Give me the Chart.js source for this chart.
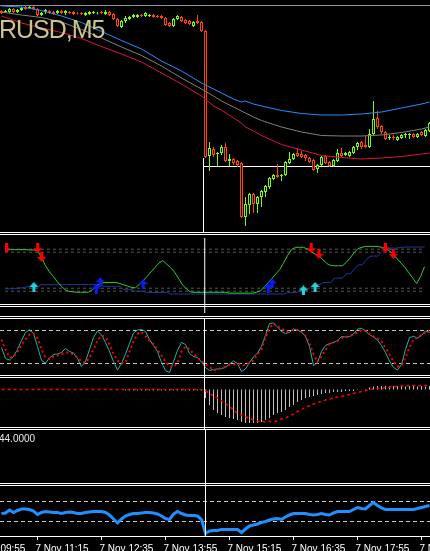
<!DOCTYPE html>
<html>
<head>
<meta charset="utf-8">
<script src="https://cdn.jsdelivr.net/npm/chart.js@4.4.1/dist/chart.umd.min.js"></script>
<style>
  html, body { margin: 0; padding: 0; background: #000; overflow: hidden; }
  #wrap { position: relative; width: 430px; height: 551px; overflow: hidden; background: #000; }
  #wrap canvas { position: absolute; left: 0; }
  .sep { position: absolute; left: 0; width: 430px; height: 1px; background: #fff; }
  #title { position: absolute; left: -1px; top: 17px; font: 25px "Liberation Sans", Arial, sans-serif; letter-spacing: -1px; line-height: 25px; color: #cbc38a; white-space: nowrap; }
  #value { position: absolute; left: -1px; top: 433px; font: 10px "Liberation Sans", Arial, sans-serif; line-height: 12px; color: #ececec; white-space: nowrap; }
</style>
</head>
<body>
<div id="wrap">
  <canvas id="price" width="430" height="233" style="top:0"></canvas>
  <canvas id="trend" width="430" height="85" style="top:233px"></canvas>
  <canvas id="stoch" width="430" height="59" style="top:318px"></canvas>
  <canvas id="macd" width="430" height="52" style="top:377px"></canvas>
  <canvas id="blank" width="430" height="56" style="top:429px"></canvas>
  <canvas id="rsi" width="430" height="75" style="top:485px"></canvas>

  <div class="sep" style="top:232px"></div>
  <div class="sep" style="top:234px"></div>
  <div class="sep" style="top:304px"></div>
  <div class="sep" style="top:306px"></div>
  <div class="sep" style="top:316px"></div>
  <div class="sep" style="top:318px"></div>
  <div class="sep" style="top:375px"></div>
  <div class="sep" style="top:377px"></div>
  <div class="sep" style="top:427px"></div>
  <div class="sep" style="top:429px"></div>
  <div class="sep" style="top:483px"></div>
  <div class="sep" style="top:485px"></div>

  <div id="title">RUSD,M5</div>
  <div id="value">44.0000</div>
</div>

<script>
// M5 bars, 7 Nov 10:30 .. 19:25
const bars = [...Array(108).keys()];

const opens = [
  1.3529, 1.3528, 1.3528, 1.3531, 1.3528, 1.3530, 1.3533, 1.3532, 1.3533, 1.3531,
  1.3525, 1.3528, 1.3529, 1.3528, 1.3527, 1.3529, 1.3527, 1.3528, 1.3528, 1.3527,
  1.3527, 1.3525, 1.3526, 1.3527, 1.35265, 1.3528, 1.3526, 1.3528, 1.3526, 1.3521,
  1.3513, 1.3519, 1.3521, 1.3523, 1.3523, 1.3525, 1.3524, 1.3524, 1.3525, 1.3524,
  1.3524, 1.3522, 1.3517, 1.3514, 1.3521, 1.3523, 1.3520, 1.3519, 1.3514, 1.3519,
  1.3518, 1.3509, 1.3384, 1.3391, 1.3386, 1.3387, 1.3393, 1.3379, 1.3381, 1.3379,
  1.3377, 1.3323, 1.3335, 1.3346, 1.3336, 1.3343, 1.3348, 1.3353, 1.3361, 1.3365,
  1.3364, 1.3365, 1.3377, 1.3381, 1.3387, 1.3386, 1.3385, 1.3382, 1.3380, 1.3371,
  1.3375, 1.3384, 1.3378, 1.3374, 1.3379, 1.3387, 1.3385, 1.3384, 1.3387, 1.3393,
  1.3398, 1.3395, 1.3393, 1.3406, 1.3422, 1.3414, 1.3408, 1.3402, 1.3403, 1.3400,
  1.3402, 1.3405, 1.3405, 1.3406, 1.3403, 1.3408, 1.3404, 1.3409
];
const highs = [
  1.3530, 1.3530, 1.3532, 1.3532, 1.3531, 1.3533, 1.3534, 1.3534, 1.3534, 1.3532,
  1.3528, 1.3531, 1.3530, 1.3529, 1.3530, 1.3530, 1.3530, 1.3529, 1.3529, 1.3528,
  1.3528, 1.3528, 1.3529, 1.3529, 1.3528, 1.3529, 1.3530, 1.3529, 1.3527, 1.3522,
  1.3520, 1.3524, 1.3524, 1.3526, 1.3526, 1.3526, 1.3528, 1.3526, 1.3526, 1.3525,
  1.3525, 1.3523, 1.3518, 1.3522, 1.3525, 1.3524, 1.3521, 1.3520, 1.3519, 1.3525,
  1.3519, 1.3510, 1.3398, 1.3393, 1.3388, 1.3395, 1.3397, 1.3386, 1.3382, 1.3380,
  1.3378, 1.3343, 1.3347, 1.3347, 1.3344, 1.3350, 1.3355, 1.3363, 1.3366, 1.3376,
  1.3366, 1.3379, 1.3388, 1.3387, 1.3392, 1.3389, 1.3386, 1.3383, 1.3381, 1.3376,
  1.3384, 1.3385, 1.3379, 1.3381, 1.3391, 1.3392, 1.3388, 1.3389, 1.3394, 1.3398,
  1.3399, 1.3404, 1.3411, 1.3439, 1.3429, 1.3415, 1.3409, 1.3405, 1.3405, 1.3404,
  1.3406, 1.3407, 1.3407, 1.3407, 1.3407, 1.3409, 1.3411, 1.3418
];
const lows = [
  1.3526, 1.3527, 1.3527, 1.3527, 1.3527, 1.3529, 1.3530, 1.3531, 1.3530, 1.3524,
  1.3524, 1.3526, 1.3526, 1.3525, 1.3526, 1.3526, 1.3525, 1.3526, 1.3525, 1.35255,
  1.3525, 1.3524, 1.3525, 1.3526, 1.35255, 1.3526, 1.3525, 1.3524, 1.3520, 1.3513,
  1.3512, 1.3517, 1.3520, 1.3522, 1.3522, 1.3523, 1.3523, 1.3523, 1.3522, 1.3522,
  1.3521, 1.3514, 1.3513, 1.3513, 1.3520, 1.3518, 1.3516, 1.3515, 1.3513, 1.3516,
  1.3508, 1.3382, 1.3369, 1.3383, 1.3374, 1.3385, 1.3378, 1.3374, 1.3375, 1.3373,
  1.3322, 1.3314, 1.3326, 1.3327, 1.3327, 1.3333, 1.3343, 1.3351, 1.3360, 1.3362,
  1.3359, 1.3364, 1.3376, 1.3380, 1.3383, 1.3382, 1.3379, 1.3377, 1.3369, 1.3367,
  1.3374, 1.3376, 1.3373, 1.3373, 1.3378, 1.3383, 1.3384, 1.3383, 1.3386, 1.3390,
  1.3391, 1.3392, 1.3392, 1.3405, 1.3411, 1.3406, 1.3400, 1.3400, 1.3400, 1.3399,
  1.3401, 1.3402, 1.3401, 1.3402, 1.3402, 1.3404, 1.3403, 1.3408
];
const closes = [
  1.3527, 1.3529, 1.3531, 1.3528, 1.3530, 1.3532, 1.3531, 1.3533, 1.3531, 1.3525,
  1.3527, 1.3530, 1.3527, 1.3526, 1.3529, 1.3527, 1.3529, 1.3527, 1.3526, 1.35265,
  1.3526, 1.3527, 1.3528, 1.3528, 1.3527, 1.3527, 1.3528, 1.3525, 1.3521, 1.3514,
  1.3519, 1.3522, 1.3523, 1.3525, 1.3525, 1.3524, 1.3527, 1.3525, 1.3523, 1.3523,
  1.3522, 1.3515, 1.3514, 1.3521, 1.3524, 1.3519, 1.3517, 1.3516, 1.3518, 1.3517,
  1.3509, 1.3383, 1.3392, 1.3385, 1.3387, 1.3393, 1.3379, 1.3381, 1.3377, 1.3375,
  1.3323, 1.3336, 1.3346, 1.3336, 1.3343, 1.3349, 1.3354, 1.3362, 1.3365, 1.3363,
  1.3365, 1.3378, 1.3381, 1.3386, 1.3384, 1.3383, 1.3382, 1.3378, 1.3370, 1.3375,
  1.3383, 1.3377, 1.3374, 1.3380, 1.3387, 1.3384, 1.3387, 1.3388, 1.3393, 1.3397,
  1.3393, 1.3393, 1.3406, 1.3421, 1.3413, 1.3408, 1.3401, 1.3403, 1.3402, 1.3403,
  1.3405, 1.3406, 1.3406, 1.3403, 1.3406, 1.3405, 1.3410, 1.3417
];

// moving averages, read at these bars
const maBars = [0, 5, 10, 15, 20, 25, 30, 35, 40, 45, 50, 53, 55, 58, 60, 61, 63, 65, 70, 75, 80, 85, 90, 95, 100, 105, 107];
const maFast = [1.3534, 1.3533, 1.35295, 1.3524, 1.35175, 1.35085, 1.34995, 1.3491, 1.3479, 1.3469, 1.3457, 1.3451, 1.3447, 1.3441, 1.3438, 1.3439, 1.3436, 1.3434, 1.34295, 1.34265, 1.3425, 1.3425, 1.3426, 1.3428, 1.3432, 1.3436, 1.3438];
const maMid = [1.3528, 1.3525, 1.35225, 1.3518, 1.35105, 1.3502, 1.3493, 1.34845, 1.3474, 1.3462, 1.3451, 1.3444, 1.3439, 1.3433, 1.3429, 1.3427, 1.3423, 1.34195, 1.3413, 1.3408, 1.34045, 1.3404, 1.3404, 1.3405, 1.34075, 1.3411, 1.3413];
const maSlow = [1.3524, 1.3517, 1.3512, 1.35075, 1.35015, 1.34935, 1.3486, 1.3478, 1.3467, 1.3456, 1.3444, 1.3434, 1.3430, 1.3422, 1.3417, 1.3413, 1.3409, 1.34045, 1.33955, 1.3390, 1.33845, 1.33825, 1.3381, 1.3382, 1.33835, 1.3386, 1.3387];

const upperLevel = 1.35345;
const crossPrice = 1.33735;
const crossTop = 1.3382;

// second window: oscillator + stepped line + signal arrows
const trendGreen = [
  84.3, 84.3, 84.3, 84.3, 84.3, 84.3, 83.8, 83.8, 82.4, 70.6,
  57.4, 47.1, 39.7, 30.9, 23.5, 17.6, 14.7, 14.0, 13.2, 13.2,
  13.2, 13.2, 17.6, 23.5, 27.9, 29.4, 29.4, 29.4, 29.4, 27.9,
  25.7, 23.5, 21.3, 20.6, 26.5, 32.4, 39.7, 47.1, 54.4, 61.8,
  66.2, 60.3, 54.4, 47.1, 36.8, 26.5, 19.1, 14.0, 13.2, 13.2,
  13.2, 13.2, 13.2, 13.2, 13.2, 13.2, 13.2, 11.8, 11.8, 11.8,
  11.8, 11.8, 11.8, 11.8, 13.2, 15.4, 22.1, 29.4, 36.8, 44.1,
  51.5, 63.2, 75.0, 84.6, 88.2, 88.2, 88.2, 85.3, 80.9, 76.5,
  73.5, 67.6, 61.0, 58.1, 57.4, 57.4, 57.4, 63.2, 70.6, 79.4,
  86.0, 88.2, 89.7, 89.7, 89.7, 89.7, 88.2, 86.0, 82.4, 76.5,
  69.1, 61.8, 54.4, 45.6, 36.8, 27.9, 39.7, 55.9
];
const trendBlue = [
  19.1, 19.1, 19.1, 20.6, 20.6, 22.1, 22.1, 22.1, 22.1, 26.0,
  26.0, 26.0, 26.0, 26.0, 26.0, 26.0, 26.0, 26.0, 26.0, 26.0,
  26.0, 26.0, 26.0, 26.0, 26.0, 23.1, 23.1, 23.1, 23.1, 23.1,
  17.6, 17.6, 17.6, 15.1, 15.1, 15.1, 12.8, 12.8, 12.8, 12.8,
  12.8, 12.8, 10.3, 10.3, 10.3, 10.3, 10.3, 10.3, 10.3, 10.3,
  10.3, 10.3, 10.3, 10.3, 10.3, 10.3, 10.3, 10.3, 10.3, 10.3,
  10.3, 10.3, 10.3, 10.3, 10.3, 10.3, 10.3, 10.3, 10.3, 10.3,
  10.3, 10.3, 12.8, 12.8, 12.8, 15.1, 17.6, 17.6, 22.1, 25.7,
  25.7, 29.4, 29.4, 29.4, 36.8, 36.8, 36.8, 44.1, 44.1, 51.5,
  58.8, 58.8, 66.2, 73.5, 73.5, 73.5, 80.9, 86.8, 86.8, 86.8,
  86.8, 88.2, 88.7, 88.7, 88.7, 88.7, 88.7, 88.7
];
const trendLevels = [85, 80, 20, 15];
const sellBars = [0, 8, 9, 78, 80, 97, 99];
const sellVals = [86.8, 86.8, 72.1, 86.8, 77.2, 87.5, 77.2];
const buyBars = [7, 76, 79];
const buyVals = [22.1, 16.2, 22.1];
const entryBars = [23, 24, 35, 67, 68];
const entryVals = [19.1, 30.1, 26.5, 20.6, 27.9];

// stochastic
const stochMain = [
  49.1, 29.1, 26.4, 32.7, 45.5, 61.8, 76.4, 80.9, 74.5, 50.9,
  25.5, 20.9, 30.0, 36.4, 37.3, 40.0, 47.3, 41.8, 39.1, 29.1,
  14.5, 23.6, 45.5, 67.3, 79.1, 71.8, 58.2, 41.8, 23.6, 8.2,
  20.0, 37.3, 56.4, 75.4, 80.9, 81.8, 78.2, 63.6, 52.7, 41.8,
  21.8, 7.3, 3.6, 23.6, 43.6, 58.2, 54.5, 38.2, 32.7, 30.9,
  22.7, 12.7, 7.3, 9.1, 10.0, 10.9, 12.7, 19.1, 24.5, 20.0,
  5.5, 10.0, 21.8, 31.8, 39.1, 50.9, 70.9, 92.7, 93.6, 86.4,
  78.2, 74.5, 76.4, 82.7, 80.9, 77.3, 69.1, 50.9, 16.4, 21.8,
  41.8, 52.7, 56.4, 58.2, 61.8, 69.1, 68.2, 69.1, 73.6, 82.7,
  83.6, 79.1, 72.7, 68.2, 62.7, 52.7, 40.0, 24.5, 12.7, 8.2,
  18.2, 45.5, 67.3, 69.1, 66.4, 70.9, 79.1, 76.4
];
const stochSignal = [
  63.6, 45.5, 30.9, 31.8, 41.8, 53.6, 64.5, 72.7, 74.5, 65.5,
  45.5, 30.9, 28.2, 32.7, 34.5, 37.3, 40.0, 39.1, 36.4, 30.0,
  24.5, 20.9, 30.9, 45.5, 61.8, 70.9, 68.2, 54.5, 37.3, 25.5,
  20.0, 21.8, 41.8, 60.0, 73.6, 77.3, 70.0, 61.8, 55.5, 44.5,
  34.5, 23.6, 14.5, 13.6, 20.9, 41.8, 50.9, 46.4, 37.3, 30.9,
  24.5, 18.2, 13.6, 8.2, 9.1, 11.8, 14.5, 17.3, 18.2, 20.0,
  18.2, 16.4, 21.8, 25.5, 36.4, 45.5, 67.3, 84.5, 92.7, 88.2,
  83.6, 78.2, 78.2, 80.9, 80.9, 77.3, 70.0, 56.4, 37.3, 22.7,
  33.6, 44.5, 55.5, 58.2, 60.9, 66.4, 68.2, 69.1, 72.7, 76.4,
  80.9, 79.1, 73.6, 69.1, 65.5, 60.0, 48.2, 36.4, 23.6, 14.5,
  16.4, 30.9, 49.1, 63.6, 67.3, 71.8, 76.4, 80.0
];
const stochLevels = [80, 20];

// MACD (pips)
const macdHist = [
  0, 0, 0, 0, 0, 0, 0, 0, 0, 0,
  0, 0, 0, 0, 0, 0, 0, 0, 0, 0,
  0, 0, 0, 0, 0, 0, 0, 0, 0, 0,
  0, -1, -1, -1, -1, -1, -1, -1, -1, -1,
  -1, -1, -1, -1, -1, -1, -1, -1, -1, -1,
  -1, -8.5, -15.5, -20.5, -23.5, -25.5, -27.5, -28.5, -29.5, -30.5,
  -32.5, -33.5, -33.5, -33.5, -33.5, -32.5, -30.5, -28.5, -25.5, -23.5,
  -22.5, -20.5, -17.5, -15.5, -12.5, -10.5, -8.5, -7.5, -6.5, -5.5,
  -4.5, -3.5, -3.5, -2.5, -2.5, -2.5, -1.5, -1.5, -1.5, -0.5,
  -0.3, 0.5, 2, 3, 3.5, 3.5, 3.5, 3, 3.5, 3.5,
  3.5, 3, 3.5, 3.5, 3, 3.5, 3, 3.5
];
const macdSignal = [
  0, 0, 0, 0, 0, 0, 0, 0, 0, 0,
  0, 0, 0, 0, 0, 0, 0, 0, 0, 0,
  0, 0, 0, 0, 0, 0, 0, 0, 0, 0,
  0, 0, 0, 0, 0, 0, 0, 0, 0, 0,
  0, 0, 0, 0, 0, 0, 0, 0, 0, 0,
  0, -1.5, -3.5, -6.5, -8.5, -11.5, -14, -17, -20.5, -24,
  -25.5, -27, -29, -30.5, -31.5, -32, -32.5, -32, -32, -31.5,
  -29.5, -28.5, -26.5, -24.5, -22, -20, -18, -16, -14.5, -13,
  -12, -10.5, -9.5, -8.5, -7.5, -7, -6, -5, -4, -3,
  -2, -1, 0, 0.5, 1, 1.5, 2, 2.5, 3, 3,
  3.5, 4, 4, 4, 4, 4, 4, 4
];

// RSI
const rsiLine = [
  46, 47, 53, 48, 52, 55, 55, 54, 51, 44,
  48, 50, 49, 48, 48, 46, 48, 49, 48, 46,
  46, 48, 49, 50, 50, 50, 48, 43, 35, 27,
  35, 41, 44, 46, 46, 47, 48, 48, 47, 45,
  41, 36, 34, 45, 50, 46, 43, 42, 42, 41,
  34, 6, 11, 12, 12, 14, 14, 14, 14, 14,
  8, 15, 21, 23, 25, 28, 30, 33, 35, 36,
  34, 39, 43, 46, 46, 46, 46, 44, 43, 44,
  46, 44, 43, 47, 50, 50, 50, 50, 54, 58,
  56, 55, 62, 68, 62, 57, 54, 54, 54, 54,
  54, 54, 54, 54, 56, 58, 60, 62
];
const rsiLevels = [70, 30];

const timeTickBars = [-7, 9, 25, 41, 57, 73, 89, 105];
const timeTickLabels = ["7 Nov 09:55", "7 Nov 11:15", "7 Nov 12:35", "7 Nov 13:55", "7 Nov 15:15", "7 Nov 16:35", "7 Nov 17:55", "7 Nov 19:15"];

const BULL = "#7cfc00";
const BEAR = "#ff4500";
const X_MIN = -0.375;
const X_MAX = 107.125;

const pts = (xs, ys) => xs.map((x, k) => ({ x, y: ys[k] }));

function baseOptions(yMin, yMax) {
  return {
    responsive: false,
    animation: false,
    events: [],
    layout: { padding: 0 },
    plugins: { legend: { display: false }, tooltip: { enabled: false } },
    scales: {
      x: { type: "linear", min: X_MIN, max: X_MAX, offset: false, display: false },
      y: { type: "linear", min: yMin, max: yMax, display: false },
    },
  };
}

function lineSet(data, color, extra) {
  return Object.assign({
    type: "line", data, borderColor: color, borderWidth: 1,
    pointRadius: 0, tension: 0, fill: false, order: 1,
  }, extra || {});
}

function level(v, color, dash, from) {
  return lineSet([{ x: from == null ? X_MIN : from, y: v }, { x: X_MAX, y: v }], color, { borderDash: dash || [], order: 5 });
}

function crosshair(xv, y0, y1) {
  return lineSet([{ x: xv, y: y0 }, { x: xv, y: y1 }], "#ffffff", { order: 0 });
}

function arrowIcon(color, down) {
  const c = document.createElement("canvas");
  c.width = 9;
  c.height = 10;
  const g = c.getContext("2d");
  g.fillStyle = color;
  g.beginPath();
  if (down) {
    g.rect(3, 0, 3, 5);
    g.moveTo(0, 5); g.lineTo(9, 5); g.lineTo(4.5, 10);
  } else {
    g.moveTo(4.5, 0); g.lineTo(9, 5); g.lineTo(0, 5);
    g.rect(3, 5, 3, 5);
  }
  g.fill();
  return c;
}

function arrows(xs, ys, icon) {
  return { type: "line", data: pts(xs, ys), showLine: false, pointStyle: icon, pointRadius: 4, order: 0 };
}

// ---- price window ----
const candleColors = bars.map((i) => (closes[i] >= opens[i] ? BULL : BEAR));
const wicks = bars.map((i) => ({ x: i, y: [lows[i], highs[i]] }));
const bodies = bars.map((i) => ({ x: i, y: [opens[i], closes[i]] }));

new Chart(document.getElementById("price"), {
  type: "bar",
  data: {
    datasets: [
      lineSet(pts(maBars, maFast), "#1e90ff"),
      lineSet(pts(maBars, maMid), "#808080"),
      lineSet(pts(maBars, maSlow), "#dc143c"),
      { data: bodies, backgroundColor: "#000", borderColor: candleColors, borderWidth: 1, borderSkipped: false,
        barThickness: 3, grouped: false, inflateAmount: 0, order: 3 },
      { data: wicks, backgroundColor: candleColors, borderWidth: 0,
        barThickness: 1, grouped: false, inflateAmount: 0, order: 4 },
      level(upperLevel, "#8c93a3"),
      level(crossPrice, "#ffffff", [], 50.375),
      crosshair(50.5, crossTop, 1.3307),
    ],
  },
  options: baseOptions(1.3307, 1.3540),
});

// ---- trend window ----
new Chart(document.getElementById("trend"), {
  type: "line",
  data: {
    datasets: [
      ...trendLevels.map((v) => level(v, "#555555", [3, 3])),
      lineSet(pts(bars, trendBlue), "#22399a", { order: 2 }),
      lineSet(pts(bars, trendGreen), "#32cd32"),
      arrows(sellBars, sellVals, arrowIcon("#ff0000", true)),
      arrows(buyBars, buyVals, arrowIcon("#20d8d8", false)),
      arrows(entryBars, entryVals, arrowIcon("#0b1cf0", false)),
      crosshair(50.75, -30, 110),
    ],
  },
  options: baseOptions(-21.32, 103.68),
});

// ---- stochastic window ----
new Chart(document.getElementById("stoch"), {
  type: "line",
  data: {
    datasets: [
      ...stochLevels.map((v) => level(v, "#c8c8c8", [4, 3])),
      lineSet(pts(bars, stochMain), "#20b2aa", { order: 2 }),
      lineSet(pts(bars, stochSignal), "#ff0000", { borderDash: [2, 3], borderWidth: 2 }),
      crosshair(50.75, -10, 110),
    ],
  },
  options: baseOptions(-4.55, 102.7),
});

// ---- MACD window ----
new Chart(document.getElementById("macd"), {
  type: "bar",
  data: {
    datasets: [
      { data: pts(bars, macdHist), backgroundColor: "#c0c0c0", borderWidth: 0,
        barThickness: 1, grouped: false, inflateAmount: 0, order: 3 },
      lineSet(pts(bars, macdSignal), "#ff0000", { borderDash: [3, 3], borderWidth: 1.5 }),
      crosshair(50.75, -50, 20),
    ],
  },
  options: baseOptions(-39.5, 12.5),
});

// ---- empty window ----
new Chart(document.getElementById("blank"), {
  type: "line",
  data: { datasets: [crosshair(51, 0, 1)] },
  options: baseOptions(0, 1),
});

// ---- RSI window with time axis ----
const rsiOptions = baseOptions(1, 103);
rsiOptions.scales.x = {
  type: "linear",
  min: X_MIN,
  max: X_MAX,
  offset: false,
  display: true,
  bounds: "data",
  border: { display: true, color: "#ffffff", width: 1 },
  grid: { display: true, drawOnChartArea: false, drawTicks: true, tickLength: 4, color: "#ffffff" },
  ticks: {
    autoSkip: false,
    maxRotation: 0,
    minRotation: 0,
    align: "start",
    padding: 3,
    labelOffset: -2,
    color: "#ffffff",
    font: { family: "'Liberation Sans', Arial, sans-serif", size: 10 },
    callback: (value) => timeTickLabels[timeTickBars.indexOf(value)],
  },
  afterBuildTicks: (scale) => {
    scale.ticks = timeTickBars.map((v) => ({ value: v }));
  },
  afterFit: (scale) => {
    scale.height = 24;
    scale.paddingLeft = 0;
    scale.paddingRight = 0;
  },
};

new Chart(document.getElementById("rsi"), {
  type: "line",
  data: {
    datasets: [
      ...rsiLevels.map((v) => level(v, "#c8c8c8", [4, 3])),
      lineSet(pts(bars, rsiLine), "#1e90ff", { borderWidth: 3 }),
      crosshair(51, 0, 110),
    ],
  },
  options: rsiOptions,
});
</script>
</body>
</html>
